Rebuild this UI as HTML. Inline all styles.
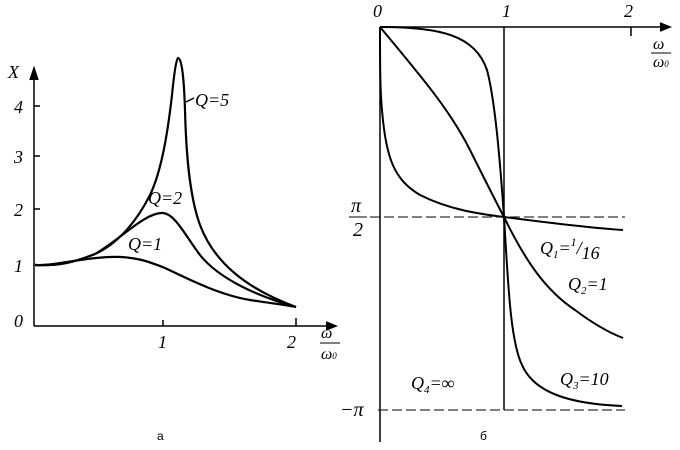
<html><body style="margin:0;background:#fff">
<svg width="680" height="450" viewBox="0 0 680 450" xmlns="http://www.w3.org/2000/svg" font-family="Liberation Serif, serif" font-style="italic">
<g stroke="#000" fill="none" stroke-width="1.5">
<line x1="34" y1="326" x2="336" y2="326"/>
<path d="M326,322 L336,326 L326,330" fill="#000"/>
<line x1="34" y1="326" x2="34" y2="72"/>
<path d="M30,80 L34,68 L38,80" fill="#000"/>
<line x1="34" y1="106" x2="40" y2="106"/><line x1="34" y1="156" x2="40" y2="156"/><line x1="34" y1="209" x2="40" y2="209"/>
<line x1="163" y1="320" x2="163" y2="326"/><line x1="296" y1="318" x2="296" y2="326"/>
<g stroke-width="2.2">
<path d="M35,265 C60,266 75,262 95,254 C115,245 135,225 150,195 C162,170 168,130 172,95 C174,75 176,60 178,58 C182,58 184,80 185,110 C186,150 189,195 200,225 C215,265 250,290 296,307"/>
<path d="M35,265 C60,266 75,262 95,254 C120,240 145,212 163,213 C175,214 185,235 200,255 C220,280 260,297 296,307"/>
<path d="M35,265 C55,266 80,258 110,257 C135,256 150,262 165,268 C190,280 220,295 250,300 C270,303 285,305 296,307"/>
</g>
<path d="M186,102 L194,98"/>
<line x1="380" y1="27" x2="670" y2="27"/>
<path d="M660,23 L670,27 L660,31" fill="#000"/>
<line x1="631" y1="27" x2="631" y2="36"/>
<line x1="380" y1="27" x2="380" y2="442"/>
<line x1="504" y1="27" x2="504" y2="410"/>
<line x1="370" y1="217" x2="625" y2="217" stroke-dasharray="10,4" stroke-width="1"/>
<line x1="378" y1="410" x2="625" y2="410" stroke-dasharray="10,4" stroke-width="1"/>
<g stroke-width="2">
<path d="M380,27 C380,60 380,90 382,110 C386,160 395,180 420,195 C450,210 480,214 504,217 C550,223 590,228 623,230"/>
<path d="M380,27 C420,75 450,110 470,150 C485,180 495,200 504,217 C525,260 545,290 575,310 C595,325 610,333 623,338"/>
<path d="M380,27 C440,27 475,35 487,70 C495,100 500,160 504,217 C508,280 510,340 522,365 C535,395 575,404 622,406"/>
</g>
</g>
<g font-size="18" fill="#000">
<text x="8" y="78">X</text>
<text x="14" y="113">4</text><text x="14" y="163">3</text><text x="14" y="216">2</text><text x="14" y="272">1</text><text x="14" y="327">0</text>
<text x="158" y="348">1</text><text x="287" y="348">2</text>
<text x="321" y="338" font-size="16">ω</text><line x1="320" y1="343" x2="340" y2="343" stroke="#000"/><text x="321" y="359" font-size="16">ω<tspan font-size="9">0</tspan></text>
<text x="195" y="106">Q=5</text><text x="148" y="204">Q=2</text><text x="128" y="250">Q=1</text>
<text x="373" y="17">0</text><text x="502" y="17">1</text><text x="624" y="17">2</text>
<text x="653" y="49" font-size="16">ω</text><line x1="651" y1="53" x2="671" y2="53" stroke="#000"/><text x="653" y="67" font-size="16">ω<tspan font-size="9">0</tspan></text>
<text x="351" y="212" font-size="20">π</text><line x1="349" y1="217" x2="367" y2="217" stroke="#000"/><text x="353" y="236" font-size="20">2</text>
<text x="340" y="416" font-size="20">−π</text>
<text x="540" y="254">Q<tspan font-size="11" dy="4">1</tspan><tspan dy="-4">=</tspan><tspan font-size="12" dy="-8">1</tspan><tspan dy="8">/</tspan><tspan dy="5">16</tspan></text>
<text x="568" y="290">Q<tspan font-size="11" dy="4">2</tspan><tspan dy="-4">=1</tspan></text>
<text x="560" y="385">Q<tspan font-size="11" dy="4">3</tspan><tspan dy="-4">=10</tspan></text>
<text x="411" y="389">Q<tspan font-size="11" dy="4">4</tspan><tspan dy="-4">=∞</tspan></text>
</g>
<text x="157" y="440" font-size="12" font-style="normal" font-family="Liberation Sans, sans-serif">а</text>
<text x="480" y="440" font-size="12" font-style="normal" font-family="Liberation Sans, sans-serif">б</text>
</svg>
</body></html>
